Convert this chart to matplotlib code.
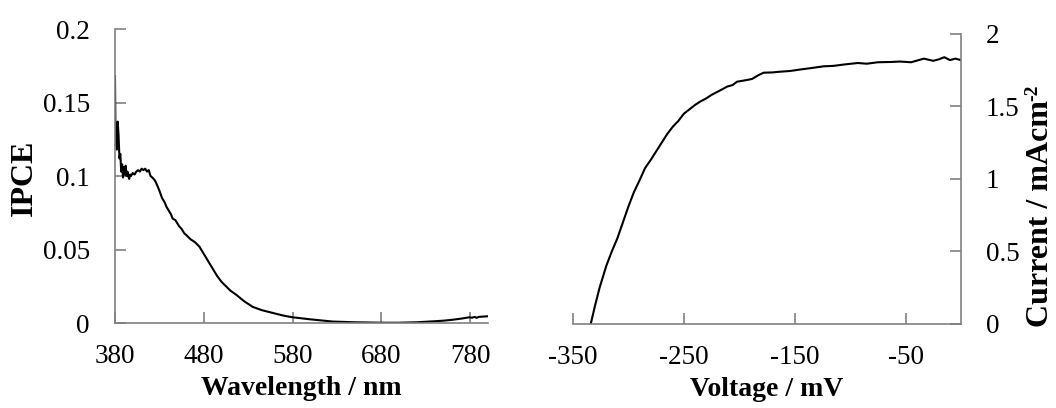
import numpy as np
import matplotlib
matplotlib.use("Agg")
import matplotlib.pyplot as plt

plt.rcParams['font.family'] = ['Liberation Serif', 'DejaVu Serif']
plt.rcParams['axes.unicode_minus'] = False

# IPCE spectrum
wavelength = [380, 380.5, 381, 382, 383, 384, 385, 386, 387, 388, 389, 390, 391, 392,
              393, 394, 395, 396, 397, 398, 400, 402, 404, 406, 408, 410, 412, 414,
              416, 418, 420, 422, 425, 428, 430, 433, 436, 438, 440, 443, 445, 448,
              450, 452, 455, 458, 460, 465, 470, 475, 480, 485, 490, 495, 500, 505,
              510, 517, 525, 535, 545, 558, 570, 580, 600, 625, 650, 680, 700, 720,
              740, 750, 760, 770, 779, 782, 785, 787, 790, 795, 800]
ipce = [0.168, 0.130, 0.125, 0.118, 0.137, 0.128, 0.112, 0.115, 0.103, 0.108, 0.099,
        0.106, 0.101, 0.107, 0.100, 0.103, 0.100, 0.098, 0.101, 0.100, 0.102, 0.101,
        0.103, 0.104, 0.103, 0.105, 0.104, 0.105, 0.103, 0.104, 0.100, 0.099, 0.097,
        0.093, 0.090, 0.085, 0.082, 0.079, 0.077, 0.074, 0.071, 0.070, 0.068, 0.066,
        0.064, 0.061, 0.060, 0.057, 0.055, 0.052, 0.047, 0.042, 0.037, 0.032, 0.028,
        0.025, 0.022, 0.019, 0.015, 0.011, 0.0088, 0.0068, 0.0050, 0.0039, 0.0025,
        0.0010, 0.0005, 0.0002, 0.0002, 0.0005, 0.0012, 0.0016, 0.0022, 0.0030,
        0.0039, 0.0036, 0.0042, 0.0035, 0.0042, 0.0044, 0.0046]

# photocurrent vs voltage
voltage = [-334, -330, -326, -320, -315, -310, -305, -300, -295, -290, -285, -280,
           -275, -270, -265, -260, -255, -250, -245, -240, -235, -230, -225, -220,
           -215, -211, -206, -202, -195, -188.4, -183, -178, -170, -163, -154, -145,
           -135, -124, -115, -105, -93, -85, -75, -63, -55, -45, -33.5, -25, -20,
           -15, -10, -5, 0]
current = [0.0, 0.13, 0.25, 0.40, 0.50, 0.59, 0.70, 0.81, 0.91, 0.99, 1.075, 1.13,
           1.19, 1.25, 1.31, 1.36, 1.40, 1.45, 1.48, 1.51, 1.535, 1.555, 1.58, 1.60,
           1.62, 1.637, 1.648, 1.671, 1.68, 1.69, 1.715, 1.733, 1.735, 1.74, 1.745,
           1.755, 1.765, 1.777, 1.78, 1.79, 1.80, 1.795, 1.805, 1.807, 1.81, 1.805,
           1.83, 1.815, 1.825, 1.84, 1.82, 1.83, 1.82]

fig = plt.figure(figsize=(10.56, 4.08), dpi=100)

spine_col = "#808080"
fs = 19.5

ax1 = fig.add_axes([0.1089, 0.2083, 0.3532, 0.7206])
ax1.plot(wavelength, ipce, color="black", lw=1.5)
ax1.set_xlim(380, 800)
ax1.set_ylim(0, 0.2)
ax1.set_xticks([380, 480, 580, 680, 780])
ax1.set_yticks([0, 0.05, 0.1, 0.15, 0.2])
ax1.set_yticklabels(["0", "0.05", "0.1", "0.15", "0.2"])
ax1.spines["top"].set_visible(False)
ax1.spines["right"].set_visible(False)
ax1.set_xlabel("Wavelength / nm", fontsize=20, fontweight="bold", labelpad=5)

ax2 = fig.add_axes([0.5426, 0.2059, 0.3674, 0.7108])
ax2.plot(voltage, current, color="black", lw=1.5)
ax2.set_xlim(-350, 0)
ax2.set_ylim(0, 2)
ax2.set_xticks([-350, -250, -150, -50])
ax2.set_yticks([0, 0.5, 1, 1.5, 2])
ax2.set_yticklabels(["0", "0.5", "1", "1.5", "2"])
ax2.spines["top"].set_visible(False)
ax2.spines["left"].set_visible(False)
ax2.yaxis.tick_right()
ax2.set_xlabel("Voltage / mV", fontsize=20, fontweight="bold", labelpad=5)

for ax in (ax1, ax2):
    for s in ax.spines.values():
        s.set_color(spine_col)
        s.set_linewidth(1.2)
    ax.tick_params(direction="in", length=8, width=1.2, color=spine_col,
                   labelsize=fs)
    ax.tick_params(axis="x", pad=15)
    ax.tick_params(axis="y", pad=18)

# y axis titles
fig.text(24 / 1056, 1 - 178 / 408, "IPCE", fontsize=23, fontweight="bold",
         rotation=90, ha="center", va="center")
cur = fig.text(1040 / 1056, 1 - 214 / 408, "Current / mAcm", fontsize=23,
               fontweight="bold", rotation=90, ha="center", va="center")
plt.annotate("-2", xy=(0, 1), xycoords=cur, xytext=(-1, 0), textcoords="offset points",
             fontsize=14, fontweight="bold", rotation=90, ha="left", va="bottom")

fig.savefig("out.png", dpi=100)
